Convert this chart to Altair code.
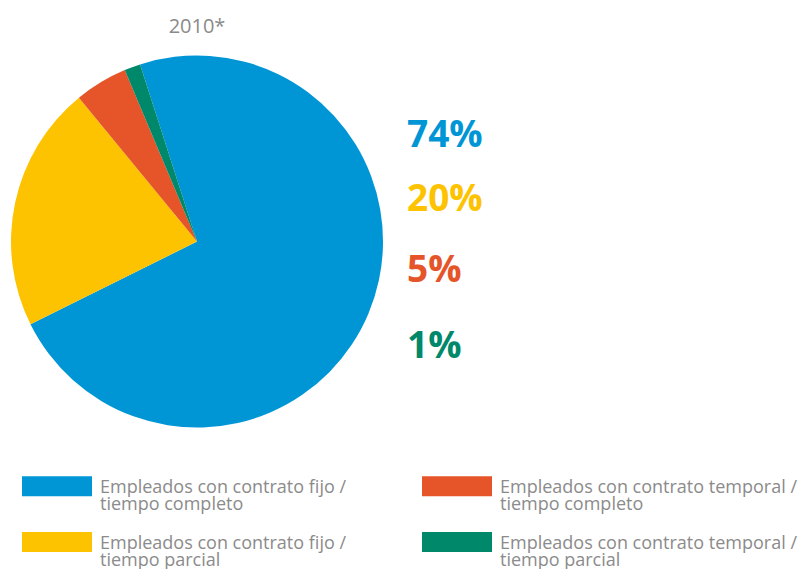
import altair as alt
import pandas as pd

categories = [
    "Empleados con contrato fijo /|tiempo completo",
    "Empleados con contrato fijo /|tiempo parcial",
    "Empleados con contrato temporal /|tiempo completo",
    "Empleados con contrato temporal /|tiempo parcial",
]
slice_share = [72.6, 21.4, 4.6, 1.4]
pct_labels = ["74%", "20%", "5%", "1%"]
colors = ["#0096D6", "#FDC300", "#E6542A", "#00886A"]
title_text = "2010*"

df = pd.DataFrame({
    "cat": categories,
    "share": slice_share,
    "label": pct_labels,
    "ord": [0, 1, 2, 3],
})

start = -0.311
color_scale = alt.Scale(domain=categories, range=colors)

pie = alt.Chart(df).mark_arc(outerRadius=186).encode(
    theta=alt.Theta("share:Q", stack=True,
                    scale=alt.Scale(range=[start, start + 6.283185307])),
    order=alt.Order("ord:Q"),
    color=alt.Color(
        "cat:N", scale=color_scale,
        legend=alt.Legend(
            title=None, orient="none", legendX=14, legendY=464.5,
            columns=2, columnPadding=75, rowPadding=14,
            symbolType="M-1,-0.825L2.5,-0.825L2.5,0.175L-1,0.175Z",
            symbolSize=1600, symbolStrokeWidth=0, symbolOpacity=1,
            labelExpr="split(datum.label, '|')",
            labelFont="Open Sans", labelFontSize=18, labelColor="#8b8b8b",
            labelLimit=400, labelOffset=38, labelBaseline="alphabetic",
        ),
    ),
    x=alt.value(189),
    y=alt.value(233.5),
)

pct = alt.Chart(df).mark_text(
    align="left", baseline="alphabetic", font="Open Sans",
    fontWeight="bold", fontSize=37,
).encode(
    x=alt.value(399),
    y=alt.Y("ord:Q", axis=None,
            scale=alt.Scale(domain=[0, 1, 2, 3], range=[139, 203, 274, 350])),
    text="label:N",
    color=alt.Color("cat:N", scale=color_scale),
)

title = alt.Chart(pd.DataFrame({"t": [title_text]})).mark_text(
    align="center", baseline="alphabetic", font="Open Sans",
    fontSize=20, color="#8a8a8a",
).encode(
    x=alt.value(189), y=alt.value(25), text="t:N",
)

chart = alt.layer(pie, pct, title).properties(
    width=796, height=561, autosize=alt.AutoSizeParams(type="none"),
    padding=0,
).configure(
    style={"guide-label": {"lineHeight": 17.5}}
).configure_view(stroke=None)

chart.save("out.html", embed_options={"renderer": "svg", "actions": False})
